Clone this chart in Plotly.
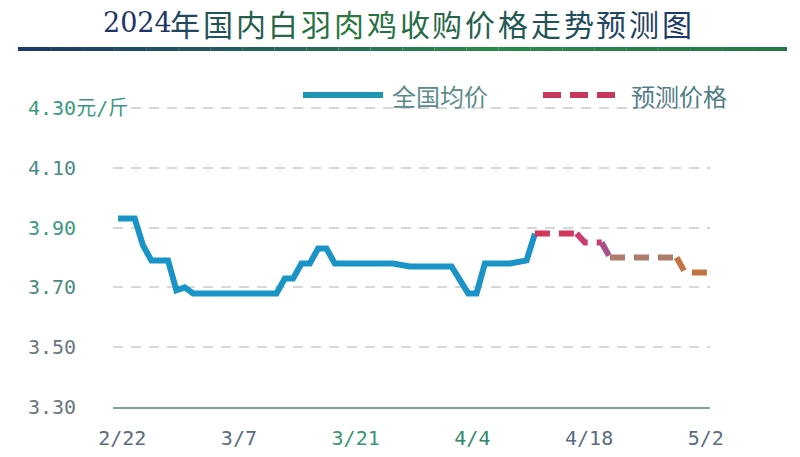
import plotly.graph_objects as go

# national average
actual_dates = ["2024-02-22", "2024-02-24", "2024-02-25", "2024-02-26", "2024-02-28",
                "2024-02-29", "2024-03-01", "2024-03-02", "2024-03-12", "2024-03-13",
                "2024-03-14", "2024-03-15", "2024-03-16", "2024-03-17", "2024-03-18",
                "2024-03-19", "2024-03-26", "2024-03-28", "2024-04-02", "2024-04-04",
                "2024-04-05", "2024-04-06", "2024-04-09", "2024-04-11", "2024-04-12"]
actual_price = [3.93, 3.93, 3.84, 3.79, 3.79,
                3.69, 3.70, 3.68, 3.68, 3.73,
                3.73, 3.78, 3.78, 3.83, 3.83,
                3.78, 3.78, 3.77, 3.77, 3.68,
                3.68, 3.78, 3.78, 3.79, 3.88]

# forecast
fcst_dates = ["2024-04-12", "2024-04-17", "2024-04-18", "2024-04-20",
              "2024-04-21", "2024-04-29", "2024-04-30", "2024-05-03"]
fcst_price = [3.88, 3.88, 3.85, 3.85, 3.80, 3.80, 3.75, 3.75]

y_ticks = [3.30, 3.50, 3.70, 3.90, 4.10, 4.30]
x_ticks = ["2024-02-22 12:00", "2024-03-07 12:00", "2024-03-21 12:00",
           "2024-04-04 12:00", "2024-04-18 12:00", "2024-05-02 12:00"]
x_labels = ["2/22", "3/7", "3/21", "4/4", "4/18", "5/2"]

title_year = "2024"
title_rest = "年国内白羽肉鸡收购价格走势预测图"
unit = "元/斤"
names = ["全国均价", "预测价格"]

# styling
BLUE = "#1a94c6"
x_label_colors = ["#5a6c82", "#5a6c82", "#3a9670", "#2e8a6c", "#5a6c82", "#5a6c82"]
y_label_colors = ["#6c7680", "#6c7680", "#4a8c7c", "#3a9a80", "#4a8a88", "#3a9a80"]
fcst_segments = [(0, 1, "#d2365a"), (1, 3, "#c83c6e"), (3, 4, "#a8508a"),
                 (4, 5, "#ad7c6c"), (5, 7, "#c47442")]

L, R, T, B = 113, 90, 105, 50
W, H = 800, 457
pw, ph = W - L - R, H - T - B


def px(x):
    return (x - L) / pw


def py(y):
    return (H - B - y) / ph


def mix(c1, c2, t):
    a = [int(c1[i:i + 2], 16) for i in (1, 3, 5)]
    b = [int(c2[i:i + 2], 16) for i in (1, 3, 5)]
    return "#" + "".join("%02x" % round(a[k] + (b[k] - a[k]) * t) for k in range(3))


def ramp(t):
    # navy -> green -> navy
    if t < 0.40:
        return mix("#1c3468", "#2a7a3c", t / 0.40)
    return mix("#2a7a3c", "#1c3a68", (t - 0.40) / 0.60)


fig = go.Figure()

fig.add_trace(go.Scatter(x=actual_dates, y=actual_price, name=names[0], mode="lines",
                         line=dict(color=BLUE, width=6), showlegend=False))

for i0, i1, col in fcst_segments:
    fig.add_trace(go.Scatter(x=fcst_dates[i0:i1 + 1], y=fcst_price[i0:i1 + 1], name=names[1],
                             mode="lines", line=dict(color=col, width=6, dash="15px,9px"),
                             showlegend=False))

shapes = []
# gradient rule under the title
n = 24
for i in range(n):
    x0 = 18 + (787 - 18) * i / n
    x1 = 18 + (787 - 18) * (i + 1) / n
    t = i / (n - 1)
    col = mix("#1c3a6c", "#2a8a48", t / 0.62) if t < 0.62 \
        else mix("#2a8a48", "#237848", (t - 0.62) / 0.38)
    shapes.append(dict(type="line", xref="paper", yref="paper", x0=px(x0), x1=px(x1),
                       y0=py(49), y1=py(49), line=dict(color=col, width=4)))

# legend samples
shapes.append(dict(type="line", xref="paper", yref="paper", x0=px(303), x1=px(383),
                   y0=py(95), y1=py(95), line=dict(color="#1e96b2", width=6)))
for a in (543, 570, 597):
    shapes.append(dict(type="line", xref="paper", yref="paper", x0=px(a), x1=px(a + 18),
                       y0=py(95), y1=py(95), line=dict(color="#c8385e", width=6)))

# title: one text per colour step
TY = 23
PITCH = 32.8
annotations = [dict(text=title_year, xref="paper", yref="paper", x=px(102), y=py(TY),
                    xanchor="left", yanchor="middle", showarrow=False, borderpad=0,
                    font=dict(family="DejaVu Serif", size=27, color=ramp(0)))]
nch = len(title_rest)
for i, ch in enumerate(title_rest):
    annotations.append(dict(text=ch, xref="paper", yref="paper",
                            x=px(185 + i * PITCH), y=py(TY),
                            xanchor="center", yanchor="middle", showarrow=False, borderpad=0,
                            font=dict(family="Noto Sans CJK SC", size=30,
                                      color=ramp((i + 2) / (nch + 1)))))

annotations += [
    dict(text=names[0], xref="paper", yref="paper", x=px(390), y=py(95), xanchor="left",
         yanchor="middle", showarrow=False,
         font=dict(family="Noto Sans CJK SC", size=24, color="#5c8c8a")),
    dict(text=names[1], xref="paper", yref="paper", x=px(629), y=py(95), xanchor="left",
         yanchor="middle", showarrow=False,
         font=dict(family="Noto Sans CJK SC", size=24, color="#527e88")),
]

for v, col in zip(y_ticks, y_label_colors):
    txt = "%.2f" % v
    if v == y_ticks[-1]:
        txt += unit
    annotations.append(dict(text=txt, xref="paper", yref="y", x=px(26), y=v, xanchor="left",
                            yanchor="middle", showarrow=False, bgcolor="white",
                            font=dict(family="DejaVu Sans Mono, Noto Sans CJK SC", size=20,
                                      color=col)))

fig.update_layout(
    width=W, height=H,
    margin=dict(l=L, r=R, t=T, b=B, autoexpand=False),
    paper_bgcolor="white", plot_bgcolor="white",
    shapes=shapes,
    annotations=annotations,
    xaxis=dict(type="date", range=["2024-02-21 09:30", "2024-05-03"],
               tickvals=x_ticks,
               ticktext=['<span style="color:%s">%s</span>' % (c, t)
                         for c, t in zip(x_label_colors, x_labels)],
               tickfont=dict(family="DejaVu Sans Mono", size=20),
               ticks="outside", ticklen=12, tickcolor="rgba(0,0,0,0)",
               showgrid=False, zeroline=False, automargin=False,
               showline=True, linecolor="#7aa89a", linewidth=2),
    yaxis=dict(range=[3.30, 4.31], tickvals=y_ticks, showticklabels=False,
               showgrid=True, gridcolor="#d6d6d6", gridwidth=1.5, griddash="10px,8px",
               zeroline=False, showline=False, automargin=False),
)

fig.write_html("out.html", config={"displayModeBar": False},
               post_script="document.body.style.margin='0px';")
